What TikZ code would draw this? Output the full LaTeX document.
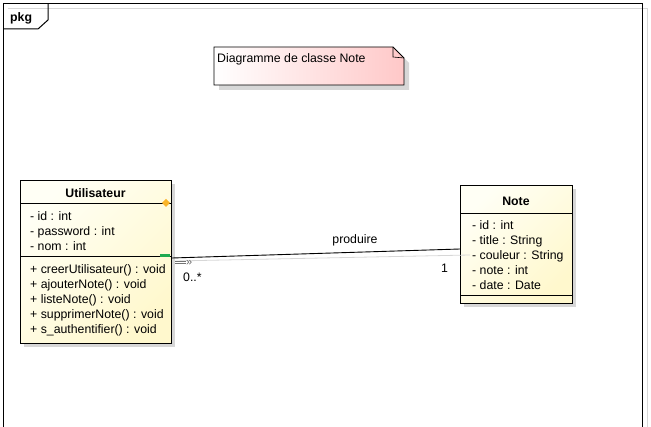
\documentclass[tikz,border=0pt]{standalone}
\usepackage{fontspec}
\setmainfont{Liberation Sans}
\usetikzlibrary{calc}
\definecolor{notepink}{RGB}{255,200,200}
\definecolor{clslight}{RGB}{255,255,245}
\definecolor{clsdark}{RGB}{255,248,205}
\definecolor{shad}{RGB}{215,215,215}
\definecolor{diam}{RGB}{250,180,40}
\definecolor{grn}{RGB}{30,170,80}
\begin{document}
\begin{tikzpicture}[x=1pt,y=-1pt,
  font=\fontsize{12.3}{14}\selectfont,
  txt/.style={anchor=base west, inner sep=0pt},
  ttl/.style={anchor=base, inner sep=0pt, font=\fontsize{12.3}{14}\selectfont\bfseries},
  clsbox/.style={draw=black, line width=1.4pt, inner sep=0pt, left color=clslight, right color=clsdark, shading angle=45},
  shadowbox/.style={fill=shad, draw=none},
  sep/.style={draw=black, line width=0.8pt}]
\useasboundingbox (0,0) rectangle (651,427);
\clip (0,0) rectangle (651,427);

% package frame
\draw[shad, line width=1pt] (8,9) -- (647,9) -- (647,440);
\draw[black, line width=1pt] (3,440) -- (3,4) -- (642,4) -- (642,440);
\draw[black, line width=1pt] (48,4) -- (48,20) -- (38,29) -- (3,29);
\node[txt, font=\fontsize{12.3}{14}\selectfont\bfseries] (pkg) at (10,22) {pkg};

% note
\fill[shad] (219,52) -- (398,52) -- (409,63) -- (409,90) -- (219,90) -- cycle;
\shade[left color=white, right color=notepink] (214,47) -- (393,47) -- (404,58) -- (404,85) -- (214,85) -- cycle;
\draw[black, line width=0.8pt] (214,47) -- (393,47) -- (404,58) -- (404,85) -- (214,85) -- cycle;
\draw[black, line width=0.6pt] (393,47) -- (393,57) -- (404,58);
\node[txt] (notetxt) at (217,63) {Diagramme de classe Note};

% Utilisateur class
\fill[shadowbox] (24,184) rectangle (175,347);
\node[clsbox, minimum width=151pt, minimum height=163pt, anchor=north west] (util) at (20,180) {};
\draw[sep] (20,203) -- (171,203);
\draw[sep] (20,256) -- (171,256);
\node[ttl] (utitle) at (95.5,197.5) {Utilisateur};
\node[txt] (u1) at (30,220.5) {- id : int};
\node[txt] (u2) at (30,235.5) {- password : int};
\node[txt] (u3) at (30,250.5) {- nom : int};
\node[txt] (m1) at (30,273.5) {+ creerUtilisateur() : void};
\node[txt] (m2) at (30,288.5) {+ ajouterNote() : void};
\node[txt] (m3) at (30,303.5) {+ listeNote() : void};
\node[txt] (m4) at (30,318.5) {+ supprimerNote() : void};
\node[txt] (m5) at (30,333.5) {+ s\_authentifier() : void};
\fill[diam] (166,199) -- (170,203) -- (166,207) -- (162,203) -- cycle;
\fill[grn] (160,254.5) rectangle (170,257.5);

% Note class
\fill[shadowbox] (464,189) rectangle (576,307);
\node[clsbox, minimum width=112pt, minimum height=118pt, anchor=north west] (note) at (460,185) {};
\draw[sep] (460,213) -- (572,213);
\draw[sep] (460,295) -- (572,295);
\node[ttl] (ntitle) at (516,205.5) {Note};
\node[txt] (n1) at (472,229.5) {- id : int};
\node[txt] (n2) at (472,244.5) {- title : String};
\node[txt] (n3) at (472,259.5) {- couleur : String};
\node[txt] (n4) at (472,274.5) {- note : int};
\node[txt] (n5) at (472,289.5) {- date : Date};

% association
\coordinate (a) at (172,258);
\coordinate (b) at (460,249);
\coordinate (as) at (175,261);
\coordinate (bs) at (470,255);
\draw[shad, line width=0.8pt] (as) -- (bs);
\draw[black, line width=0.9pt] (a) -- (b);
\draw[black!55, line width=0.7pt] (175,261) -- (186,261);
\draw[black!55, line width=0.7pt] (175,263) -- (186,263);
\node[txt, text=black!60, font=\fontsize{11}{12}\selectfont] (chev) at (186,265.5) {»};
\node[anchor=base, inner sep=0pt] (lbl) at (355,243.5) {produire};
\node[txt] (m0) at (183,281.5) {0..*};
\node[txt] (m1r) at (441,272.5) {1};
\end{tikzpicture}
\end{document}
